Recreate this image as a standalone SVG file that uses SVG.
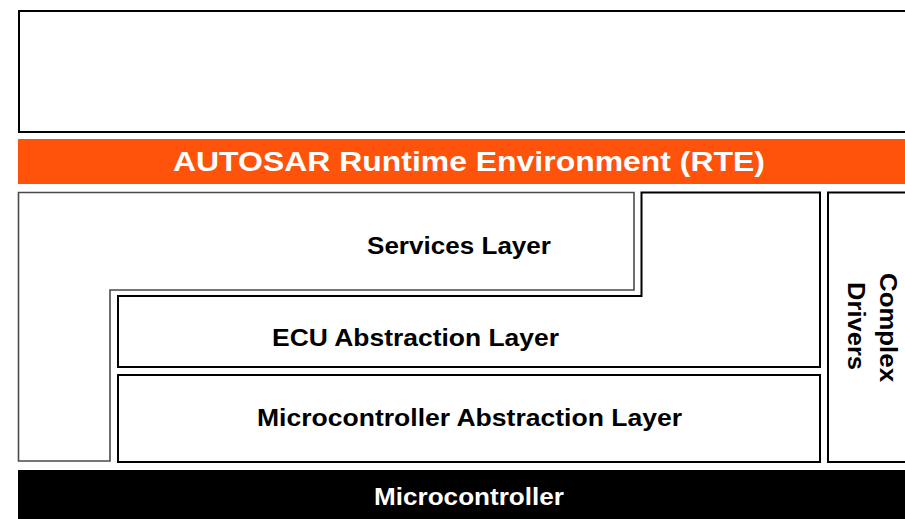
<svg xmlns="http://www.w3.org/2000/svg" width="905" height="519" viewBox="0 0 905 519">
<style>
.lbl{font-family:"Liberation Sans",Arial,sans-serif;font-weight:bold;font-size:23.5px;fill:#000;text-anchor:middle}
.wht{fill:#fff}
.box{fill:#fff;stroke:#000;stroke-width:2}
.svc{fill:#fff;stroke:#4a4a4a;stroke-width:1.6}
</style>
<rect width="905" height="519" fill="#fff"/>
<g id="application-layer">
<rect class="box" x="19" y="11" width="900" height="121"/>
</g>
<g id="rte">
<rect x="18" y="139" width="890" height="45" fill="#FF520A"/>
<text class="lbl wht" x="469" y="171" style="font-size:27px" textLength="592" lengthAdjust="spacingAndGlyphs">AUTOSAR Runtime Environment (RTE)</text>
</g>
<g id="services-layer">
<polygon class="svc" points="18.5,192.5 634,192.5 634,290 110,290 110,461 18.5,461"/>
<text class="lbl" x="459" y="254" textLength="184" lengthAdjust="spacingAndGlyphs">Services Layer</text>
</g>
<g id="ecu-abstraction-layer">
<polygon class="box" points="641.5,192.5 820,192.5 820,367 118,367 118,296 641.5,296"/>
<text class="lbl" x="415.5" y="346" textLength="287" lengthAdjust="spacingAndGlyphs">ECU Abstraction Layer</text>
</g>
<g id="microcontroller-abstraction-layer">
<rect class="box" x="118" y="375" width="702" height="87"/>
<text class="lbl" x="469.5" y="425.5" textLength="425" lengthAdjust="spacingAndGlyphs">Microcontroller Abstraction Layer</text>
</g>
<g id="complex-drivers">
<rect class="box" x="828" y="192.5" width="90" height="269.5"/>
<text class="lbl" transform="translate(880,327.5) rotate(90)" x="0" y="0" textLength="109" lengthAdjust="spacingAndGlyphs">Complex</text>
<text class="lbl" transform="translate(848,326) rotate(90)" x="0" y="0" textLength="88" lengthAdjust="spacingAndGlyphs">Drivers</text>
</g>
<g id="microcontroller">
<rect x="18" y="470" width="890" height="49" fill="#000"/>
<text class="lbl wht" x="469" y="504.5" textLength="190" lengthAdjust="spacingAndGlyphs">Microcontroller</text>
</g>
<g id="connectors"/>
</svg>
